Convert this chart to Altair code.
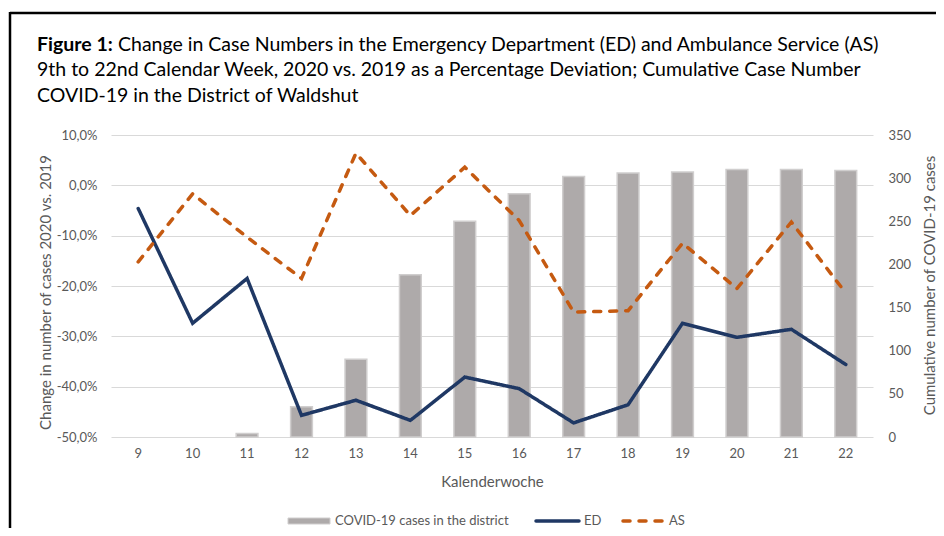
import altair as alt
import pandas as pd

# ---- data ----
weeks = [9, 10, 11, 12, 13, 14, 15, 16, 17, 18, 19, 20, 21, 22]
ed_change = [-4.6, -27.4, -18.5, -45.7, -42.7, -46.7, -38.1, -40.4, -47.2, -43.6, -27.4, -30.2, -28.6, -35.6]
as_change = [-15.2, -1.7, -10.3, -18.5, 6.4, -6.0, 3.6, -7.0, -25.2, -24.9, -11.5, -20.5, -7.3, -21.4]
covid_cases = [0, 0, 4, 35, 90, 188, 250, 282, 302, 306, 307, 310, 310, 309]
left_ticks = [-50, -40, -30, -20, -10, 0, 10]
right_ticks = [0, 50, 100, 150, 200, 250, 300, 350]

title_bold = "Figure 1:"
title_lines = [
    "Change in Case Numbers in the Emergency Department (ED) and Ambulance Service (AS)",
    "9th to 22nd Calendar Week, 2020 vs. 2019 as a Percentage Deviation; Cumulative Case Number",
    "COVID-19 in the District of Waldshut",
]

BLUE = "#1F3864"
ORANGE = "#C55A11"
BAR = "#AEAAAA"
BAR_EDGE = "#D0CECE"
GRID = "#D9D9D9"
TXT = "#595959"
FONT = "Lato"

bars_df = pd.DataFrame({"week": weeks, "cases": covid_cases})
lines_df = pd.DataFrame({
    "week": weeks + weeks,
    "value": ed_change + as_change,
    "series": ["ED"] * len(weeks) + ["AS"] * len(weeks),
})
one = pd.DataFrame({"k": [0]})

xenc = alt.X(
    "week:O",
    scale=alt.Scale(domain=weeks, paddingInner=0.6, paddingOuter=0.3),
    axis=alt.Axis(labelAngle=0, labelPadding=10, title="Kalenderwoche",
                  titleY=44, titleBaseline="middle", domain=False, ticks=False, grid=False),
)

bars = alt.Chart(bars_df).transform_filter("datum.cases > 0").mark_bar(
    color=BAR, stroke=BAR_EDGE, strokeWidth=1.5
).encode(
    x=xenc,
    y=alt.Y("cases:Q", scale=alt.Scale(domain=[0, 350], nice=False),
            axis=alt.Axis(orient="right", values=right_ticks, grid=False, labelPadding=15,
                          title="Cumulative number of COVID-19 cases", titleAngle=270,
                          titleX=56, titleY=150, titleBaseline="middle", titleAlign="center")),
)

minus_fix = "replace(replace(format(datum.value, '.1f'), '.', ','), '\u2212', '-') + '%'"

lines = alt.Chart(lines_df).mark_line(strokeWidth=3.5, strokeCap="round", strokeJoin="miter").encode(
    x=xenc,
    y=alt.Y("value:Q", scale=alt.Scale(domain=[-50, 10], nice=False),
            axis=alt.Axis(orient="left", values=left_ticks, grid=True, gridColor=GRID,
                          labelExpr=minus_fix,
                          labelPadding=14, title="Change in number of cases 2020 vs. 2019",
                          titleAngle=270, titleX=-66, titleY=157, titleBaseline="middle",
                          titleAlign="center")),
    color=alt.Color("series:N", scale=alt.Scale(domain=["ED", "AS"], range=[BLUE, ORANGE]), legend=None),
    strokeDash=alt.StrokeDash("series:N", scale=alt.Scale(domain=["ED", "AS"], range=[[1, 0], [7, 9]]), legend=None),
    order=alt.Order("week:O"),
)


def txt(s, x, y, size=13, bold=False, color=TXT):
    return alt.Chart(one).mark_text(
        text=s, align="left", baseline="middle", font=FONT, fontSize=size,
        fontWeight="bold" if bold else "normal", color=color,
    ).encode(x=alt.value(x), y=alt.value(y))


def rule(x1, x2, y1, y2, color, width, dash=None, cap="butt"):
    kw = dict(color=color, strokeWidth=width, strokeCap=cap)
    if dash is not None:
        kw["strokeDash"] = dash
    return alt.Chart(one).mark_rule(**kw).encode(
        x=alt.value(x1), x2=alt.value(x2), y=alt.value(y1), y2=alt.value(y2))


# title (relative to plot origin at page 111,135)
TS = 19.5
title_layers = [
    txt(title_bold, -74, -90, size=TS, bold=True, color="#000000"),
    txt(title_lines[0], 7, -90, size=TS, color="#000000"),
    txt(title_lines[1], -74, -65, size=TS, color="#000000"),
    txt(title_lines[2], -74, -39, size=TS, color="#000000"),
]

# legend
legend_layers = [
    alt.Chart(one).mark_rect(color=BAR, stroke=BAR_EDGE, strokeWidth=1).encode(
        x=alt.value(177), x2=alt.value(219), y=alt.value(383), y2=alt.value(389)),
    txt("COVID-19 cases in the district", 224, 386),
    rule(425, 468, 386, 386, BLUE, 3.5, cap="round"),
    txt("ED", 473, 386),
    rule(512, 553, 386, 386, ORANGE, 3.5, dash=[7, 9], cap="round"),
    txt("AS", 558, 386),
]

# frame lines of the figure
frame_layers = [
    rule(-101, 840, -122, -122, "#000000", 2.5),
    rule(-101, -101, -123, 400, "#000000", 2.5),
]

chart = alt.layer(
    bars, lines, *title_layers, *legend_layers, *frame_layers
).resolve_scale(y="independent").properties(
    width=762, height=302,
    autosize=alt.AutoSizeParams(type="none"),
    padding={"left": 103, "top": 127, "right": 63, "bottom": 91},
).configure_view(stroke=None).configure_axis(
    labelFont=FONT, labelColor=TXT, labelFontSize=13,
    titleFont=FONT, titleColor=TXT, titleFontSize=15, titleFontWeight="normal",
    domain=False, ticks=False,
)

chart.save("out.html", embed_options={"renderer": "svg", "actions": False})
